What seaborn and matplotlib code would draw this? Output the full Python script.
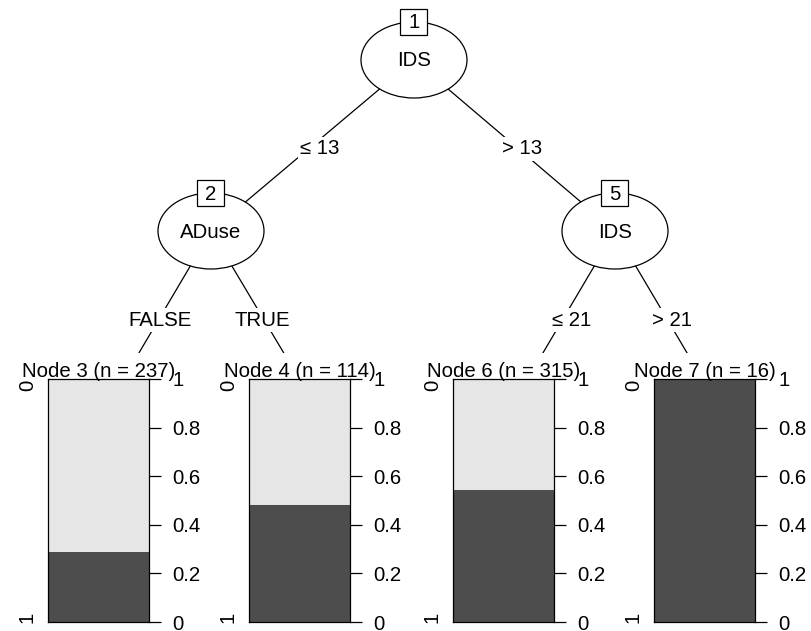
import matplotlib
matplotlib.use("Agg")
import matplotlib.pyplot as plt
import matplotlib.transforms as mtransforms
from matplotlib.patches import Ellipse, Rectangle
import pandas as pd
import seaborn as sns

# inner (split) nodes
inner_ids = [1, 2, 5]
inner_vars = ["IDS", "ADuse", "IDS"]

# edges parent -> child with split labels
edge_parent = [1, 1, 2, 2, 5, 5]
edge_child = [2, 5, 3, 4, 6, 7]
edge_labels = ["≤ 13", "> 13", "FALSE", "TRUE", "≤ 21", "> 21"]

# terminal nodes: size and share of class "1" (dark part of the bar)
leaf_ids = [3, 4, 6, 7]
leaf_n = [237, 114, 315, 16]
leaf_p1 = [0.29, 0.48, 0.545, 1.0]

prob_ticks = [0, 0.2, 0.4, 0.6, 0.8, 1]
prob_tick_labels = ["0", "0.2", "0.4", "0.6", "0.8", "1"]
class_labels = ["0", "1"]

# layout in pixels (figure is 812 x 631)
W, H = 812, 631
node_xy = {1: (414, 60), 2: (211, 231), 5: (615, 231),
           3: (107, 407), 4: (316, 407), 6: (511, 407), 7: (719, 407)}
label_xy = [(320, 148), (522, 148), (160, 319), (262, 319), (572, 319), (672, 319)]
ell_w, ell_h = 106, 76
box_w, box_h = 27, 26
leaf_left = [48, 249, 453, 654]
leaf_w = 101
leaf_top, leaf_bottom = 379, 622
cut_y = 353

LIGHT = "#e6e6e6"
DARK = "#4d4d4d"
FS = 14.7

sns.set_style("white")
plt.rcParams["font.family"] = ["Liberation Sans", "DejaVu Sans"]
plt.rcParams["text.color"] = "black"
plt.rcParams["ytick.color"] = "black"
plt.rcParams["ytick.labelcolor"] = "black"

fig = plt.figure(figsize=(W / 100, H / 100), dpi=100)
tree = fig.add_axes([0, 0, 1, 1])
tree.set_xlim(0, W)
tree.set_ylim(H, 0)
tree.axis("off")

# edges
for par, ch, lab, (lx, ly) in zip(edge_parent, edge_child, edge_labels, label_xy):
    x0, y0 = node_xy[par]
    x1, y1 = node_xy[ch]
    tree.plot([x0, x1], [y0, y1], color="black", lw=0.9, zorder=1)
    tree.text(lx, ly + 1, lab, fontsize=FS, ha="center", va="center", zorder=5,
              bbox=dict(facecolor="white", edgecolor="none", pad=1.5))

# hide edge ends under the terminal panels
tree.add_patch(Rectangle((0, cut_y), W, H - cut_y, facecolor="white",
                         edgecolor="none", zorder=3))

# inner nodes
for nid, var in zip(inner_ids, inner_vars):
    x, y = node_xy[nid]
    tree.add_patch(Ellipse((x, y), ell_w, ell_h, facecolor="white",
                           edgecolor="black", lw=0.9, zorder=4))
    tree.text(x, y + 1, var, fontsize=FS, ha="center", va="center", zorder=5)
    tree.add_patch(Rectangle((x - box_w / 2, y - ell_h / 2 - box_h / 2), box_w, box_h,
                             facecolor="white", edgecolor="black", lw=0.9, zorder=6))
    tree.text(x, y - ell_h / 2 + 1, str(nid), fontsize=FS, ha="center",
              va="center", zorder=7)

# terminal nodes: stacked bar per node
for nid, n, p1, left in zip(leaf_ids, leaf_n, leaf_p1, leaf_left):
    ax = fig.add_axes([left / W, (H - leaf_bottom) / H, leaf_w / W,
                       (leaf_bottom - leaf_top) / H])
    df = pd.DataFrame({"node": [str(nid)], "total": [1.0], "p1": [p1]})
    sns.barplot(data=df, x="node", y="total", color=LIGHT, saturation=1,
                width=1, edgecolor="none", ax=ax)
    sns.barplot(data=df, x="node", y="p1", color=DARK, saturation=1,
                width=1, edgecolor="none", ax=ax)
    ax.set_xlim(-0.5, 0.5)
    ax.set_ylim(0, 1)
    ax.set_xlabel("")
    ax.set_ylabel("")
    ax.set_xticks([])
    ax.yaxis.tick_right()
    ax.set_yticks(prob_ticks)
    ax.set_yticklabels(prob_tick_labels)
    ax.tick_params(axis="y", right=True, length=8.6, width=0.9, pad=8.5,
                   labelsize=FS, color="black", labelcolor="black")
    for sp in ax.spines.values():
        sp.set_visible(True)
        sp.set_color("black")
        sp.set_linewidth(0.9)
    trans = mtransforms.blended_transform_factory(ax.transAxes, ax.transData)
    ax.text(-0.205, 0.975, class_labels[0], transform=trans, rotation=90,
            fontsize=FS, ha="center", va="center")
    ax.text(-0.205, 0.02, class_labels[1], transform=trans, rotation=90,
            fontsize=FS, ha="center", va="center")
    ax.text(0.5, 1.008, f"Node {nid} (n = {n})", transform=ax.transAxes,
            fontsize=FS, ha="center", va="baseline")

fig.savefig("out.png", dpi=100)
